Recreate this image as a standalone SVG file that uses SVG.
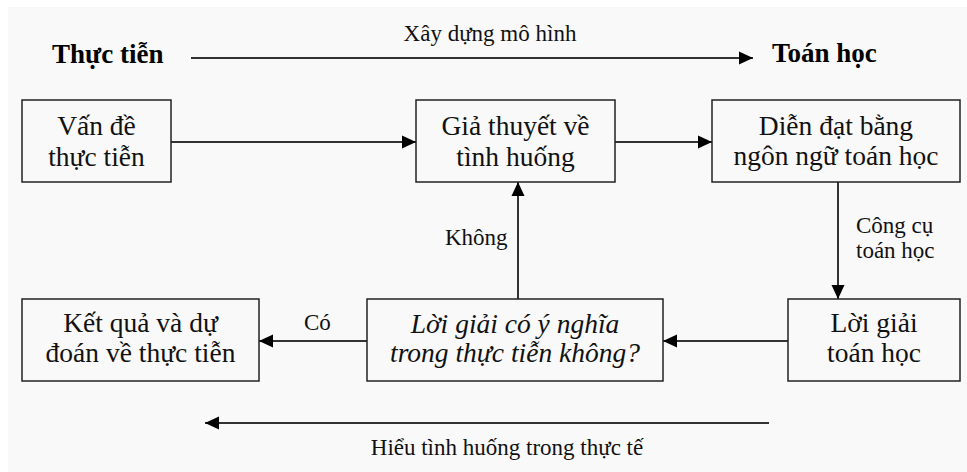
<svg xmlns="http://www.w3.org/2000/svg" width="967" height="472" viewBox="0 0 967 472">
<defs>
<marker id="ah" markerUnits="userSpaceOnUse" markerWidth="14" markerHeight="14" refX="14" refY="7" orient="auto">
<path d="M0,0.5 L14,7 L0,13.5 z" fill="#000"/>
</marker>
<style>
.box{fill:none;stroke:#222;stroke-width:1.5}
.t{font-family:"Liberation Serif","Times New Roman",serif;font-size:27.5px;fill:#111;text-anchor:middle}
.it{font-style:italic}
.lb{font-family:"Liberation Serif","Times New Roman",serif;font-size:23px;fill:#111}
.hd{font-family:"Liberation Serif","Times New Roman",serif;font-size:27px;font-weight:bold;fill:#000}
.c{fill:none;stroke:#333;stroke-width:2;marker-end:url(#ah)}
</style>
</defs>
<rect x="0" y="0" width="967" height="472" fill="#ffffff"/>
<rect x="8" y="7" width="959" height="465" fill="#f9f9f9"/>
<g id="headers">
<text class="hd" x="52" y="63">Thực tiễn</text>
<text class="hd" x="772" y="62">Toán học</text>
<text class="lb" x="490" y="41" text-anchor="middle">Xây dựng mô hình</text>
<text class="lb" x="507" y="455" text-anchor="middle">Hiểu tình huống trong thực tế</text>
</g>
<g id="connectors">
<line class="c" x1="191" y1="58" x2="753" y2="58"/>
<line class="c" x1="769" y1="423" x2="205" y2="423"/>
<line class="c" x1="171" y1="142" x2="416" y2="142"/>
<line class="c" x1="615" y1="142" x2="712" y2="142"/>
<line class="c" x1="838" y1="182" x2="838" y2="299"/>
<line class="c" x1="788" y1="341" x2="663" y2="341"/>
<line class="c" x1="367" y1="341" x2="259" y2="341"/>
<line class="c" x1="518" y1="299" x2="518" y2="182"/>
<text class="lb" x="445" y="245">Không</text>
<text class="lb" x="304" y="330">Có</text>
<text class="lb" x="856" y="233">Công cụ</text>
<text class="lb" x="856" y="258">toán học</text>
</g>
<g id="n1">
<rect class="box" x="22" y="100" width="149" height="82"/>
<text class="t" x="96.5" y="135">Vấn đề</text>
<text class="t" x="96.5" y="166">thực tiễn</text>
</g>
<g id="n2">
<rect class="box" x="416" y="100" width="199" height="82"/>
<text class="t" x="515.5" y="135">Giả thuyết về</text>
<text class="t" x="515.5" y="166">tình huống</text>
</g>
<g id="n3">
<rect class="box" x="712" y="100" width="248" height="82"/>
<text class="t" x="836" y="135">Diễn đạt bằng</text>
<text class="t" x="836" y="165">ngôn ngữ toán học</text>
</g>
<g id="n4">
<rect class="box" x="22" y="299" width="237" height="82"/>
<text class="t" x="140.5" y="332">Kết quả và dự</text>
<text class="t" x="140.5" y="362">đoán về thực tiễn</text>
</g>
<g id="n5">
<rect class="box" x="367" y="299" width="296" height="82"/>
<text class="t it" x="515" y="333">Lời giải có ý nghĩa</text>
<text class="t it" x="515" y="362">trong thực tiễn không?</text>
</g>
<g id="n6">
<rect class="box" x="788" y="299" width="172" height="82"/>
<text class="t" x="874" y="332">Lời giải</text>
<text class="t" x="874" y="362">toán học</text>
</g>
</svg>
